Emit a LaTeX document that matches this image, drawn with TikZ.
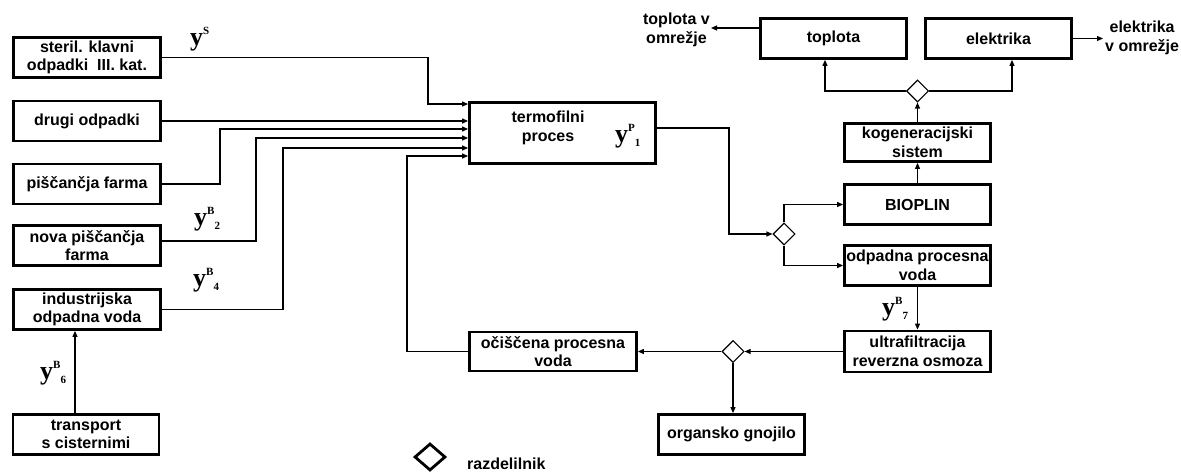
\documentclass[tikz,border=0pt]{standalone}
\usepackage{fontspec}
\setmainfont{Liberation Sans}
\newfontfamily\yserif{Liberation Serif}
\usetikzlibrary{arrows.meta,shapes.geometric}
% flow variable labels: bold serif y with raised and lowered indices
\newcommand{\ybig}{\yserif\bfseries\fontsize{26}{26}\selectfont}
\newcommand{\ysmall}{\yserif\bfseries\fontsize{11}{11}\selectfont}
\newcommand{\yvar}[2]{{\ybig y}\raisebox{11pt}{\ysmall #1}\raisebox{-4pt}{\ysmall #2}}
\begin{document}
\begin{tikzpicture}[x=1pt,y=-1pt,
  box/.style={draw, line width=2.8pt, rectangle, inner sep=0pt, align=center,
              font=\bfseries\fontsize{16}{18.5}\selectfont},
  lbl/.style={inner sep=0pt, align=center, font=\bfseries\fontsize{16}{18.5}\selectfont},
  flow/.style={line width=1.1pt, -{Triangle[length=6pt,width=5pt]}},
  split/.style={draw, diamond, line width=1.1pt, inner sep=0pt,
                minimum width=22pt, minimum height=22pt},
  ylab/.style={inner sep=0pt, anchor=base west}
]
\useasboundingbox (0,0) rectangle (1181,473);

% input boxes
\node[box, minimum width=147, minimum height=40] (steril) at (87,57.5) {steril. klavni\\odpadki\ \ III. kat.};
\node[box, minimum width=147, minimum height=40] (drugi) at (87,121) {drugi odpadki};
\node[box, minimum width=147, minimum height=40] (pisc) at (87,184) {piščančja farma};
\node[box, minimum width=147, minimum height=40] (nova) at (87,245.5) {nova piščančja\\farma};
\node[box, minimum width=147, minimum height=40] (indust) at (87,309.5) {industrijska\\odpadna voda};
\node[box, minimum width=146, minimum height=40] (transport) at (86,434.5) {transport\\s cisternimi};

% process
\node[box, minimum width=186, minimum height=61] (termo) at (562.5,133) {};
\node[lbl] (termotxt) at (548,128) {termofilni\\proces};
\node[box, minimum width=167, minimum height=39] (ocisc) at (553,351.5) {očiščena procesna\\voda};
\node[box, minimum width=146, minimum height=40] (organsko) at (731.5,434.5) {organsko gnojilo};

% right column
\node[box, minimum width=146, minimum height=40] (bioplin) at (917.5,204.5) {BIOPLIN};
\node[box, minimum width=146, minimum height=40] (odpadna) at (917.5,265.5) {odpadna procesna\\voda};
\node[box, minimum width=146, minimum height=41] (ultra) at (917.5,351.5) {ultrafiltracija\\reverzna osmoza};
\node[box, minimum width=146, minimum height=38] (kogen) at (917.5,142.5) {kogeneracijski\\sistem};
\node[box, minimum width=146, minimum height=40] (toplota) at (833.5,38.5) {toplota};
\node[box, minimum width=146, minimum height=40] (elektrika) at (998.5,38.5) {elektrika};

% splitters
\node[split] (d1) at (784,234) {};
\node[split] (d2) at (733,351.5) {};
\node[split] (d3) at (917.5,91) {};

% outside labels
\node[lbl, anchor=east] (tv) at (710,30) {toplota v\\omrežje};
\node[lbl, anchor=west] (ev) at (1105,38) {elektrika\\v omrežje};

% legend
\node[draw, diamond, line width=2.8pt, inner sep=0pt, minimum width=31pt, minimum height=27pt] (legend) at (430,457) {};
\node[lbl, anchor=base west] (legendtxt) at (467,469) {razdelilnik};

% variable labels
\node[ylab] (ys) at (190,46) {\yvar{S}{}};
\node[ylab] (yb2) at (194,226) {\yvar{B}{2}};
\node[ylab] (yb4) at (193,287) {\yvar{B}{4}};
\node[ylab] (yb6) at (40,379) {\yvar{B}{6}};
\node[ylab] (yp1) at (615,143) {\yvar{P}{1}};
\node[ylab] (yb7) at (882,316) {\yvar{B}{7}};

% bend points
\coordinate (j1) at (428,104);
\coordinate (j3) at (220,129);
\coordinate (j4) at (256,138);
\coordinate (j5) at (283,148);
\coordinate (j6) at (407,156);
\coordinate (j7) at (75,400);
\coordinate (j8) at (729,234);

% inputs to the thermophilic process
\draw[flow] (steril.east) -| (j1) -- (termo.west |- j1);
\draw[flow] (drugi.east) -- (termo.west |- drugi.east);
\draw[flow] (pisc.east) -| (j3) -- (termo.west |- j3);
\draw[flow] ([yshift=4.5pt]nova.east) -| (j4) -- (termo.west |- j4);
\draw[flow] (indust.east) -| (j5) -- (termo.west |- j5);
\draw[flow] (ocisc.west) -| (j6) -- (termo.west |- j6);
\draw[flow] (transport.north -| j7) -- (indust.south -| j7);

% process outputs
\draw[flow] ([yshift=5pt]termo.east) -| (j8) -- (d1.west);
\draw[flow] (d1.north) |- (bioplin.west);
\draw[flow] (d1.south) |- (odpadna.west);
\draw[flow] (odpadna.south) -- (ultra.north);
\draw[flow] (ultra.west) -- (d2.east);
\draw[flow] (d2.west) -- (ocisc.east);
\draw[flow] (d2.south) -- (organsko.north -| d2.south);
\draw[flow] (bioplin.north) -- (kogen.south);
\draw[flow] (kogen.north) -- (d3.south);
\draw[flow] (d3.west) -| ([xshift=-8.5pt]toplota.south);
\draw[flow] (d3.east) -| ([xshift=13.5pt]elektrika.south);
\draw[flow] ([yshift=10.5pt]toplota.west) coordinate (tw) -- ([xshift=1pt]tv.east |- tw);
\draw[flow] (elektrika.east) -- ([xshift=-2pt]ev.west |- elektrika.east);
\end{tikzpicture}
\end{document}
